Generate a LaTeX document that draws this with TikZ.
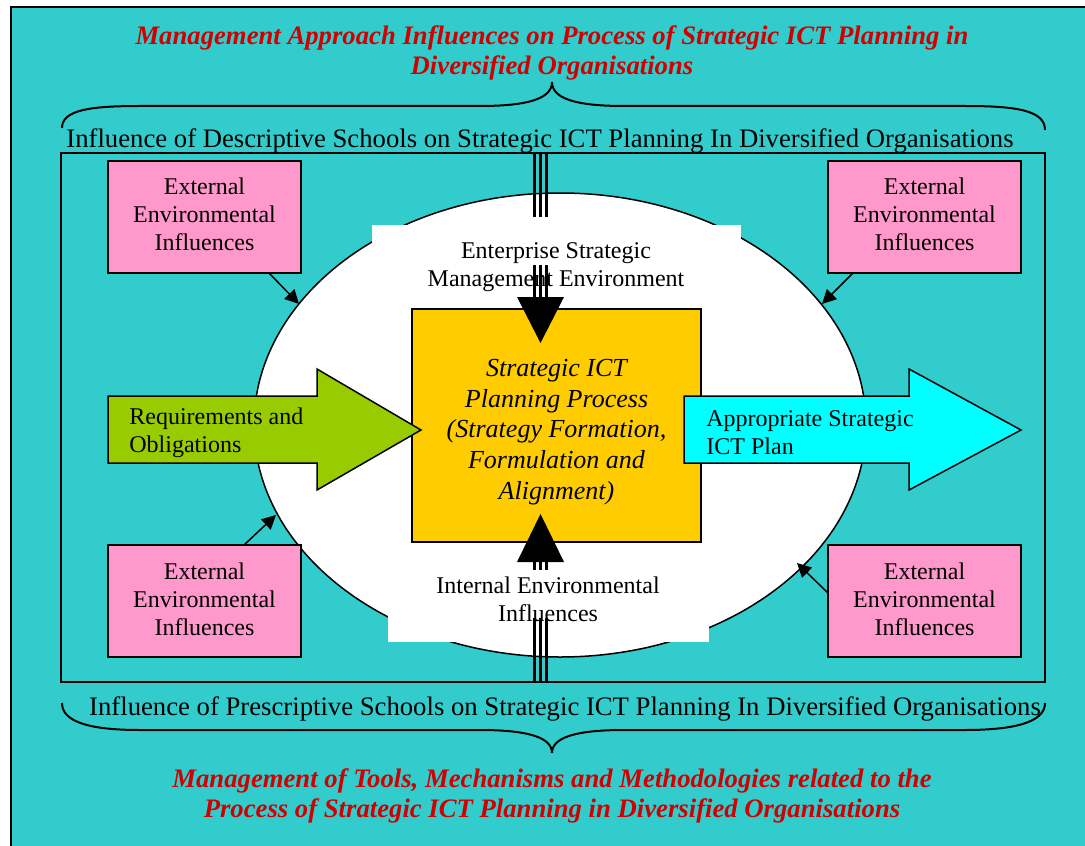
\documentclass[tikz,border=0pt]{standalone}
\usepackage{fontspec}
\setmainfont{Liberation Serif}
\usetikzlibrary{arrows.meta,shapes.geometric}
\definecolor{tealbg}{HTML}{33CCCC}
\definecolor{pinkbox}{HTML}{FF99CC}
\definecolor{goldbox}{HTML}{FFCC00}
\definecolor{greenarrow}{HTML}{99CC00}
\definecolor{cyanarrow}{HTML}{00FFFF}
\definecolor{redtitle}{HTML}{D00000}
\tikzset{
  pinkstyle/.style={draw, line width=0.75pt, fill=pinkbox, minimum width=96.5pt, minimum height=56pt, inner sep=0pt},
  redstyle/.style={align=center, text=redtitle, font=\bfseries\itshape\fontsize{13.35}{15}\selectfont},
  bodytext/.style={align=center, font=\fontsize{12}{14}\selectfont, inner sep=0pt},
  schooltext/.style={align=center, font=\fontsize{13.35}{15}\selectfont, inner sep=0pt},
  smallarrow/.style={line width=0.75pt, -{Triangle[length=7pt,width=7pt]}},
  tripleline/.style={line width=1.5pt},
  bigarrow/.style={draw, line width=0.75pt},
  bracestyle/.style={line width=1pt}
}
\begin{document}
\begin{tikzpicture}[x=0.5pt,y=-0.5pt]
\useasboundingbox (0,0) rectangle (1085,845);
% background
\draw[fill=tealbg, line width=0.8pt] (11,7) rectangle (1110,870);
% titles
\node[redstyle] (toptitle) at (552,53) {Management Approach Influences on Process of Strategic ICT Planning in\\Diversified Organisations};
\node[redstyle] (bottitle) at (552,796) {Management of Tools, Mechanisms and Methodologies related to the\\Process of Strategic ICT Planning in Diversified Organisations};
% braces
\draw[bracestyle] (62,128) .. controls (62,110) and (90,106) .. (140,106) -- (480,106) .. controls (530,106) and (552,98) .. (552,82)
  .. controls (552,98) and (574,106) .. (624,106) -- (965,106) .. controls (1015,106) and (1045,110) .. (1045,130);
\draw[bracestyle] (62,703) .. controls (62,722) and (90,730) .. (140,730) -- (480,730) .. controls (530,730) and (552,738) .. (552,753)
  .. controls (552,738) and (574,730) .. (624,730) -- (965,730) .. controls (1015,730) and (1045,722) .. (1045,703);
\node[schooltext] (desc) at (540,141) {Influence of Descriptive Schools on Strategic ICT Planning In Diversified Organisations};
\node[schooltext] (pres) at (565,709) {Influence of Prescriptive Schools on Strategic ICT Planning In Diversified Organisations};
% inner frame
\draw[line width=1pt] (61,153) rectangle (1045,682);
% ellipse
\node[ellipse, draw, line width=0.75pt, fill=white, minimum width=306pt, minimum height=232pt, inner sep=0pt] (el) at (560,425) {};
\fill[white] (372,225) rectangle (741,300);
\fill[white] (388,560) rectangle (709,642);
% centre box
\node[draw, line width=0.9pt, fill=goldbox, minimum width=144.5pt, minimum height=116.5pt, inner sep=0pt] (cb) at (556.5,425.5) {};
\node[align=center, font=\itshape\fontsize{13}{15.4}\selectfont] (cbtext) at (556.5,432) {Strategic ICT\\Planning Process\\(Strategy Formation,\\Formulation and\\Alignment)};
% top triple arrow
\coordinate (ttop) at (540.5,153);
\coordinate (tbase) at (540.5,297);
\coordinate (ttip) at (540.5,343);
\foreach \dx in {-6,0,6} \draw[tripleline] ([xshift=\dx*0.5pt]ttop) -- ([xshift=\dx*0.5pt]tbase);
\fill ([xshift=-23.5*0.5pt]tbase) -- ([xshift=23.5*0.5pt]tbase) -- (ttip) -- cycle;
\fill[white] (524,217) rectangle (557,265);
% bottom triple arrow
\coordinate (bbot) at (540.5,682);
\coordinate (bbase) at (540.5,562);
\coordinate (btip) at (540.5,514);
\foreach \dx in {-6,0,6} \draw[tripleline] ([xshift=\dx*0.5pt]bbot) -- ([xshift=\dx*0.5pt]bbase);
\fill ([xshift=-23.5*0.5pt]bbase) -- ([xshift=23.5*0.5pt]bbase) -- (btip) -- cycle;
\fill[white] (524,570) rectangle (557,618);
\node[bodytext] (ent) at (556,267) {Enterprise Strategic\\Management Environment};
\node[bodytext] (intl) at (548,599) {Internal Environmental\\Influences};
% big arrows
\draw[bigarrow, fill=greenarrow] (108,396) -- (317,396) -- (317,369) -- (421,430) -- (317,490) -- (317,463) -- (108,463) -- cycle;
\node[anchor=west, align=left, font=\fontsize{12}{14}\selectfont, inner sep=0pt] (req) at (129,433) {Requirements and\\Obligations};
\draw[bigarrow, fill=cyanarrow] (684,396) -- (909,396) -- (909,369) -- (1021,430) -- (909,490) -- (909,463) -- (684,463) -- cycle;
\node[anchor=west, align=left, font=\fontsize{12}{14}\selectfont, inner sep=0pt] (plan) at (706,433) {Appropriate Strategic\\ICT Plan};
% pink boxes
\node[pinkstyle] (tl) at (204.5,217) {};
\node[bodytext] (tltext) at (204.5,214) {External\\Environmental\\Influences};
\node[pinkstyle] (tr) at (924.5,217) {};
\node[bodytext] (trtext) at (924.5,214) {External\\Environmental\\Influences};
\node[pinkstyle] (bl) at (204.5,601) {};
\node[bodytext] (bltext) at (204.5,599) {External\\Environmental\\Influences};
\node[pinkstyle] (br) at (924.5,601) {};
\node[bodytext] (brtext) at (924.5,599) {External\\Environmental\\Influences};
% small arrows
\coordinate (s1) at (269,273); \coordinate (e1) at (299,304);
\coordinate (s2) at (853,273); \coordinate (e2) at (822,304);
\coordinate (s3) at (244,545); \coordinate (e3) at (276,515);
\coordinate (s4) at (828,593); \coordinate (e4) at (797,563);
\draw[smallarrow] (s1) -- (e1);
\draw[smallarrow] (s2) -- (e2);
\draw[smallarrow] (s3) -- (e3);
\draw[smallarrow] (s4) -- (e4);
\end{tikzpicture}
\end{document}
